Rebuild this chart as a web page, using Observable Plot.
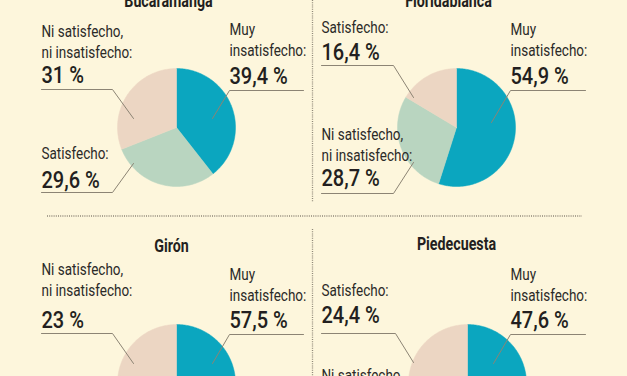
<!DOCTYPE html>
<html><head><meta charset="utf-8">
<script src="https://cdn.jsdelivr.net/npm/d3@7"></script>
<script src="https://cdn.jsdelivr.net/npm/@observablehq/plot@0.6"></script>
<style>
html,body{margin:0;padding:0;background:#fdf6dc;overflow:hidden;}
#chart svg{display:block;}
</style></head><body><div id="chart"></div>
<script>
// ---- data ----
const cities = ["Bucaramanga", "Floridablanca", "Girón", "Piedecuesta"];
const categories = ["Muy insatisfecho", "Satisfecho", "Ni satisfecho, ni insatisfecho"];
const categoryLabels = ["Muy\ninsatisfecho:", "Satisfecho:", "Ni satisfecho,\nni insatisfecho:"];
const muyInsatisfecho = [39.4, 54.9, 57.5, 47.6];
const satisfecho = [29.6, 16.4, 19.5, 24.4];
const niSatisfecho = [31, 28.7, 23, 28];
// clockwise slice order from 12 o'clock (index into categories)
const sliceOrder = [[0, 1, 2], [0, 2, 1], [0, 1, 2], [0, 2, 1]];

// ---- layout (pixels) ----
const W = 627, H = 376;
const pieCenters = [[176, 127], [456, 127], [176, 383], [467, 383]];
const pieRadius = 59;
const titlePos = [[168, 6], [448, 6], [171, 251], [456, 249]];
// per city, per category: [textX, labelBaseline, numberBaseline, ruleY, ruleEndX, tipX, tipY]
const labelLayout = [
  [[229, 55, 83, 90, 303, 212, 118], [41, 158, 187, 192, 112, 133, 163], [41, 57, 82, 89, 112, 133, 118]],
  [[510, 55, 83, 90, 585, 491, 122], [321, 32, 59, 65, 393, 413, 97], [321, 160, 185, 193, 393, 413, 162]],
  [[229, 300, 327, 334, 303, 212, 363], [41, 420, 448, 453, 112, 133, 410], [41, 295, 327, 333, 112, 133, 363]],
  [[510, 300, 327, 334, 585, 493, 363], [321, 295, 322, 333, 395, 413, 362], [321, 401, 426, 433, 395, 413, 420]]
];
const sliceColors = ["#0ba6bf", "#b9d5c0", "#ecd6c3"];
const font = 'Roboto, "Liberation Sans", sans-serif';
const ink = "#231f20";
// horizontal condensing of [titles, labels, numbers]
const condense = [0.77, 0.78, 0.87];

const values = [muyInsatisfecho, satisfecho, niSatisfecho];
const fmt = v => String(v).replace(".", ",") + " %";

// ---- pie slice polygons ----
const pieRows = [];
cities.forEach((city, c) => {
  const [cx, cy] = pieCenters[c];
  let cum = 0;
  sliceOrder[c].forEach((cat, pos) => {
    const v = values[cat][c];
    const a0 = cum / 100 * 2 * Math.PI;
    const a1 = (cum + v) / 100 * 2 * Math.PI;
    cum += v;
    const key = city + "-" + pos;
    pieRows.push({key, pos, x: cx, y: cy});
    const n = Math.max(2, Math.ceil((a1 - a0) / (Math.PI / 180)));
    for (let i = 0; i <= n; i++) {
      const a = a0 + (a1 - a0) * i / n;
      pieRows.push({key, pos, x: cx + pieRadius * Math.sin(a), y: cy - pieRadius * Math.cos(a)});
    }
    pieRows.push({key, pos, x: cx, y: cy});
  });
});

// ---- labels and leader lines ----
const labelRows = [];
const leaderRows = [];
cities.forEach((city, c) => {
  const cx = pieCenters[c][0];
  categories.forEach((cat, k) => {
    const [tx, yl, yn, ry, rx2, px, py] = labelLayout[c][k];
    labelRows.push({label: categoryLabels[k], number: fmt(values[k][c]), x: tx, yl, yn});
    const near = Math.abs(tx - cx) < Math.abs(rx2 - cx) ? tx : rx2;
    const far = near === tx ? rx2 : tx;
    const key = city + "-" + k;
    leaderRows.push({key, x: far, y: ry}, {key, x: near, y: ry}, {key, x: px, y: py});
  });
});

const titleRows = cities.map((city, i) => ({city, x: titlePos[i][0], y: titlePos[i][1]}));
const hDividers = [{y: 215.5, x1: 47, x2: 582}];
const vDividers = [{x: 312, y1: 0, y2: 202}, {x: 312, y1: 229, y2: 376}];

const chart = Plot.plot({
  width: W,
  height: H,
  margin: 0,
  x: {domain: [0, W], range: [0, W], axis: null},
  y: {domain: [0, H], range: [0, H], axis: null},
  color: {type: "ordinal", domain: [0, 1, 2], range: sliceColors},
  style: {background: "#fdf6dc", fontFamily: font, color: ink, overflow: "hidden"},
  marks: [
    Plot.line(pieRows, {x: "x", y: "y", z: "key", fill: "pos", stroke: "pos", strokeWidth: 0.5}),
    Plot.line(leaderRows, {x: "x", y: "y", z: "key", stroke: "#8c8474", strokeWidth: 1}),
    Plot.ruleY(hDividers, {y: "y", x1: "x1", x2: "x2", stroke: "#8f8878", strokeWidth: 1.3, strokeDasharray: "1,1.2"}),
    Plot.ruleX(vDividers, {x: "x", y1: "y1", y2: "y2", stroke: "#8f8878", strokeWidth: 1.3, strokeDasharray: "1,1.2"}),
    Plot.text(titleRows, {x: "x", y: "y", text: "city", fontSize: 18.5, fontWeight: "bold", lineAnchor: "bottom", textAnchor: "middle", fill: ink, fontFamily: font}),
    Plot.text(labelRows, {x: "x", y: "yl", text: "label", fontSize: 17.3, lineHeight: 1.16, lineAnchor: "bottom", textAnchor: "start", fill: "#2b2a28", fontFamily: font}),
    Plot.text(labelRows, {x: "x", y: "yn", text: "number", fontSize: 23, fontWeight: 500, lineAnchor: "bottom", textAnchor: "start", fill: ink, fontFamily: font})
  ]
});

// condense the text horizontally (the original uses a condensed typeface)
chart.querySelectorAll('g[aria-label="text"]').forEach((g, gi) => {
  const s = condense[gi] ?? 1;
  g.querySelectorAll("text").forEach(t => {
    const tr = t.getAttribute("transform") || "";
    const x = +(t.getAttribute("x") || 0);
    t.setAttribute("transform", `${tr} translate(${x},0) scale(${s},1) translate(${-x},0)`);
  });
});
document.getElementById("chart").appendChild(chart);
</script>
</body></html>
